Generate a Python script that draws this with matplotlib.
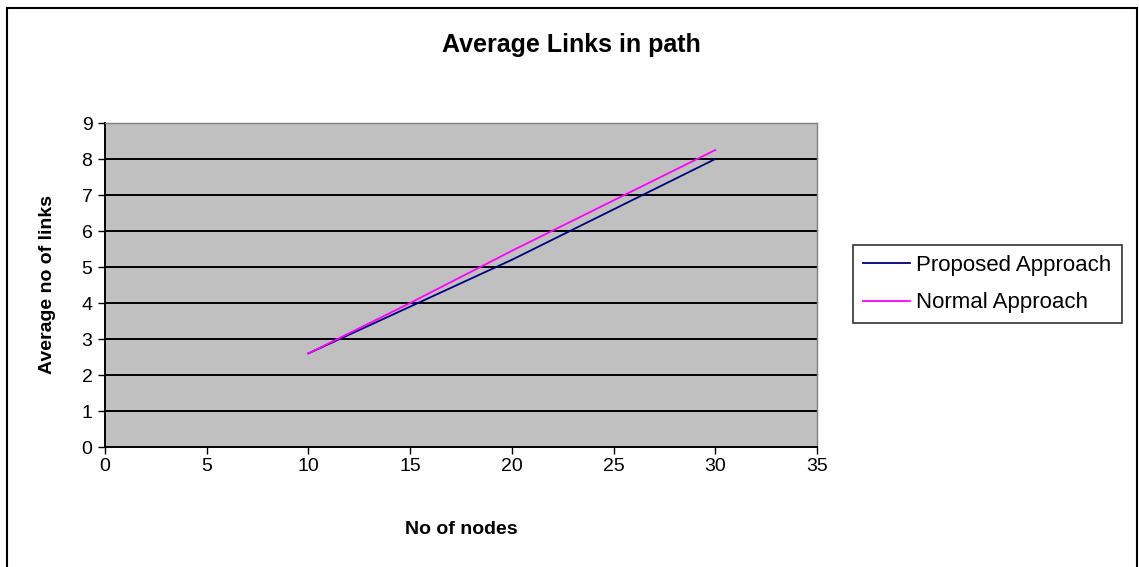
import matplotlib
matplotlib.use("Agg")
import matplotlib.pyplot as plt
from matplotlib.patches import Rectangle

# Data
nodes = [10, 15, 20, 25, 30]
proposed = [2.6, 3.9, 5.2, 6.6, 8.0]
normal = [2.6, 4.0, 5.45, 6.85, 8.25]
x_ticks = [0, 5, 10, 15, 20, 25, 30, 35]
y_ticks = [0, 1, 2, 3, 4, 5, 6, 7, 8, 9]

W, H = 1139, 567
plt.rcParams['font.family'] = ['Liberation Sans', 'DejaVu Sans']

fig = plt.figure(figsize=(W / 100, H / 100), dpi=100)
fig.patch.set_facecolor('white')

# Outer chart border
fig.patches.append(Rectangle((7 / W, -0.02), (1137 - 7) / W, (567 - 7) / H + 0.02 - 0.001,
                             transform=fig.transFigure, fill=False,
                             edgecolor='black', linewidth=1.5, zorder=0))

ax = fig.add_axes([105 / W, 1 - 447 / H, (817 - 105) / W, (447 - 123) / H])
ax.set_facecolor('#c0c0c0')

for y in y_ticks[1:]:
    ax.axhline(y, color='black', linewidth=1.4, zorder=1)

ax.plot(nodes, proposed, color='#000080', linewidth=1.3, label='Proposed Approach', zorder=3)
ax.plot(nodes, normal, color='#ff00ff', linewidth=1.3, label='Normal Approach', zorder=3)

ax.set_xlim(0, 35)
ax.set_ylim(0, 9)
ax.set_xticks(x_ticks)
ax.set_yticks(y_ticks)
ax.tick_params(direction='out', length=5, width=1, labelsize=14, colors='black')
ax.tick_params(axis='x', pad=3)
ax.tick_params(axis='y', pad=4)

for side in ['top', 'right']:
    ax.spines[side].set_color('#808080')
    ax.spines[side].set_linewidth(1)
for side in ['left', 'bottom']:
    ax.spines[side].set_color('black')
    ax.spines[side].set_linewidth(1.4)

ax.set_xlabel('No of nodes', fontsize=14, fontweight='bold', labelpad=33)
ax.set_ylabel('Average no of links', fontsize=14, fontweight='bold', labelpad=18)

fig.text(0.502, 1 - 45 / H, 'Average Links in path', ha='center', va='center',
         fontsize=18, fontweight='bold')

leg = ax.legend(loc='center left', bbox_to_anchor=(853 / W, 1 - 284 / H),
                bbox_transform=fig.transFigure, fontsize=16, frameon=True,
                fancybox=False, handlelength=2.1, handletextpad=0.3,
                borderpad=0.45, labelspacing=0.75, borderaxespad=0)
leg.get_frame().set_edgecolor('black')
leg.get_frame().set_linewidth(1.2)

fig.savefig('out.png', dpi=100, facecolor='white')
